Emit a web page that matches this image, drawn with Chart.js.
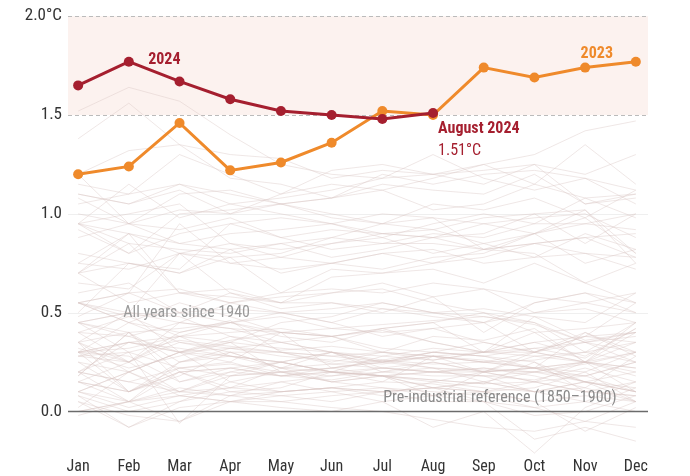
<!DOCTYPE html>
<html lang="en">

<head>
  <meta charset="UTF-8">
  <title>Monthly global temperature above pre-industrial</title>
  <script src="https://cdn.jsdelivr.net/npm/chart.js"></script>
  <style>
    body {
      margin: 0;
      background: #fff;
    }
    #wrap {
      width: 690px;
      height: 476px;
    }
  </style>
</head>

<body>
  <div id="wrap"><canvas id="tempChart"></canvas></div>

  <script>
    const months = ['Jan', 'Feb', 'Mar', 'Apr', 'May', 'Jun', 'Jul', 'Aug', 'Sep', 'Oct', 'Nov', 'Dec'];
    const yTicks = [0, 0.5, 1.0, 1.5, 2.0];

    const y2024 = [1.65, 1.77, 1.67, 1.58, 1.52, 1.50, 1.48, 1.51];
    const y2023 = [1.20, 1.24, 1.46, 1.22, 1.26, 1.36, 1.52, 1.50, 1.74, 1.69, 1.74, 1.77];

    // every year 1940-2022, read roughly off the background
    const pastYears = [
      [0.28, 0.35, 0.30, 0.38, 0.31, 0.33, 0.30, 0.26, 0.30, 0.32, 0.27, 0.42],
      [0.40, 0.38, 0.45, 0.42, 0.40, 0.38, 0.41, 0.35, 0.30, 0.48, 0.36, 0.40],
      [0.45, 0.30, 0.36, 0.33, 0.30, 0.28, 0.25, 0.22, 0.21, 0.20, 0.24, 0.30],
      [0.18, 0.40, 0.25, 0.30, 0.22, 0.20, 0.28, 0.26, 0.30, 0.35, 0.28, 0.42],
      [0.45, 0.38, 0.30, 0.36, 0.40, 0.42, 0.44, 0.46, 0.48, 0.44, 0.35, 0.30],
      [0.35, 0.25, 0.40, 0.46, 0.30, 0.28, 0.30, 0.38, 0.36, 0.42, 0.25, 0.10],
      [0.30, 0.22, 0.28, 0.35, 0.20, 0.18, 0.22, 0.20, 0.18, 0.16, 0.22, 0.15],
      [0.25, 0.20, 0.30, 0.32, 0.28, 0.26, 0.24, 0.28, 0.25, 0.30, 0.25, 0.22],
      [0.35, 0.10, 0.18, 0.30, 0.30, 0.24, 0.22, 0.20, 0.18, 0.20, 0.15, 0.10],
      [0.30, 0.10, 0.22, 0.24, 0.20, 0.15, 0.18, 0.16, 0.14, 0.15, 0.10, 0.08],
      [0.00, 0.05, 0.12, 0.08, 0.15, 0.10, 0.12, 0.10, 0.08, 0.02, -0.05, 0.05],
      [0.08, -0.08, 0.05, 0.15, 0.20, 0.22, 0.25, 0.28, 0.26, 0.22, 0.20, 0.30],
      [0.30, 0.28, 0.15, 0.22, 0.18, 0.16, 0.20, 0.18, 0.18, 0.10, 0.05, 0.15],
      [0.30, 0.32, 0.38, 0.35, 0.32, 0.30, 0.26, 0.24, 0.25, 0.22, 0.18, 0.25],
      [0.10, 0.20, 0.08, 0.05, 0.08, 0.10, 0.05, 0.08, 0.10, 0.12, 0.20, 0.05],
      [0.15, 0.05, -0.05, 0.08, 0.10, 0.12, 0.10, 0.12, 0.10, 0.05, -0.10, 0.02],
      [0.05, -0.08, 0.02, 0.05, 0.05, 0.08, 0.10, 0.05, 0.05, -0.02, 0.00, 0.08],
      [0.10, 0.20, 0.10, 0.18, 0.25, 0.30, 0.28, 0.32, 0.30, 0.30, 0.35, 0.38],
      [0.55, 0.45, 0.35, 0.32, 0.30, 0.25, 0.30, 0.28, 0.25, 0.26, 0.30, 0.25],
      [0.28, 0.25, 0.35, 0.30, 0.22, 0.24, 0.26, 0.22, 0.20, 0.15, 0.18, 0.25],
      [0.20, 0.30, -0.06, 0.18, 0.20, 0.22, 0.18, 0.20, 0.22, 0.18, 0.12, 0.28],
      [0.30, 0.35, 0.32, 0.28, 0.25, 0.30, 0.22, 0.20, 0.22, 0.20, 0.18, 0.10],
      [0.28, 0.30, 0.22, 0.25, 0.18, 0.20, 0.18, 0.20, 0.20, 0.22, 0.25, 0.20],
      [0.18, 0.40, 0.15, 0.20, 0.18, 0.22, 0.26, 0.30, 0.28, 0.32, 0.35, 0.25],
      [0.20, 0.15, 0.10, 0.08, 0.05, 0.02, 0.00, -0.04, -0.08, -0.10, -0.05, -0.08],
      [0.10, 0.02, 0.08, 0.05, 0.10, 0.12, 0.08, 0.15, 0.12, 0.10, 0.15, 0.05],
      [0.15, 0.10, 0.20, 0.10, 0.12, 0.20, 0.18, 0.12, 0.15, 0.10, 0.15, 0.12],
      [0.10, 0.05, 0.20, 0.12, 0.22, 0.15, 0.18, 0.16, 0.14, 0.25, 0.10, 0.15],
      [0.02, 0.20, 0.30, 0.15, 0.10, 0.12, 0.10, 0.12, 0.10, 0.15, 0.10, 0.08],
      [0.15, 0.10, 0.25, 0.32, 0.35, 0.30, 0.25, 0.28, 0.30, 0.35, 0.38, 0.40],
      [0.35, 0.40, 0.20, 0.22, 0.18, 0.20, 0.18, 0.12, 0.15, 0.10, 0.12, 0.05],
      [0.08, 0.00, 0.05, 0.10, 0.08, 0.05, 0.10, 0.12, 0.05, 0.02, 0.05, 0.00],
      [-0.02, 0.05, 0.10, 0.12, 0.15, 0.18, 0.20, 0.25, 0.20, 0.30, 0.25, 0.40],
      [0.45, 0.50, 0.45, 0.42, 0.35, 0.38, 0.30, 0.28, 0.25, 0.22, 0.15, 0.10],
      [0.00, 0.05, 0.08, 0.12, 0.10, 0.12, 0.15, 0.14, 0.10, 0.05, 0.08, 0.05],
      [0.20, 0.15, 0.22, 0.18, 0.20, 0.15, 0.12, 0.08, 0.05, -0.14, -0.08, -0.15],
      [0.05, -0.02, -0.05, 0.05, 0.02, 0.00, 0.05, -0.08, 0.00, -0.21, 0.02, 0.12],
      [0.20, 0.35, 0.38, 0.40, 0.42, 0.38, 0.32, 0.30, 0.28, 0.22, 0.40, 0.30],
      [0.32, 0.25, 0.38, 0.28, 0.25, 0.20, 0.18, 0.08, 0.20, 0.15, 0.25, 0.18],
      [0.20, 0.05, 0.25, 0.28, 0.22, 0.30, 0.25, 0.30, 0.35, 0.30, 0.38, 0.55],
      [0.40, 0.48, 0.38, 0.45, 0.48, 0.42, 0.40, 0.42, 0.35, 0.30, 0.38, 0.35],
      [0.55, 0.45, 0.55, 0.48, 0.40, 0.38, 0.42, 0.45, 0.30, 0.28, 0.30, 0.45],
      [0.15, 0.25, 0.10, 0.20, 0.25, 0.20, 0.18, 0.15, 0.20, 0.22, 0.25, 0.45],
      [0.55, 0.48, 0.50, 0.45, 0.50, 0.45, 0.38, 0.42, 0.45, 0.30, 0.40, 0.28],
      [0.35, 0.20, 0.30, 0.25, 0.40, 0.22, 0.25, 0.30, 0.28, 0.25, 0.15, 0.10],
      [0.25, 0.10, 0.20, 0.22, 0.25, 0.20, 0.15, 0.28, 0.20, 0.22, 0.15, 0.20],
      [0.30, 0.35, 0.30, 0.28, 0.25, 0.20, 0.22, 0.25, 0.20, 0.28, 0.25, 0.22],
      [0.35, 0.50, 0.30, 0.35, 0.45, 0.48, 0.55, 0.50, 0.52, 0.48, 0.45, 0.60],
      [0.70, 0.55, 0.60, 0.58, 0.55, 0.55, 0.52, 0.50, 0.48, 0.45, 0.30, 0.35],
      [0.30, 0.45, 0.40, 0.45, 0.38, 0.35, 0.42, 0.45, 0.50, 0.45, 0.35, 0.40],
      [0.45, 0.50, 0.80, 0.60, 0.52, 0.55, 0.50, 0.58, 0.40, 0.55, 0.60, 0.50],
      [0.60, 0.65, 0.50, 0.60, 0.55, 0.60, 0.62, 0.55, 0.50, 0.40, 0.42, 0.45],
      [0.55, 0.50, 0.48, 0.38, 0.35, 0.30, 0.20, 0.22, 0.15, 0.20, 0.25, 0.30],
      [0.45, 0.40, 0.42, 0.45, 0.40, 0.38, 0.42, 0.35, 0.30, 0.40, 0.25, 0.35],
      [0.40, 0.25, 0.45, 0.55, 0.50, 0.52, 0.55, 0.50, 0.45, 0.55, 0.60, 0.55],
      [0.70, 0.85, 0.60, 0.62, 0.55, 0.68, 0.70, 0.72, 0.65, 0.75, 0.65, 0.55],
      [0.48, 0.60, 0.50, 0.52, 0.50, 0.45, 0.52, 0.48, 0.45, 0.50, 0.55, 0.50],
      [0.55, 0.60, 0.62, 0.55, 0.60, 0.72, 0.70, 0.75, 0.82, 0.85, 0.88, 0.90],
      [0.95, 1.15, 0.98, 1.05, 1.00, 0.95, 1.00, 0.98, 0.82, 0.80, 0.65, 0.75],
      [0.70, 0.90, 0.60, 0.55, 0.58, 0.60, 0.65, 0.58, 0.62, 0.58, 0.55, 0.60],
      [0.50, 0.75, 0.70, 0.78, 0.60, 0.62, 0.60, 0.65, 0.62, 0.50, 0.52, 0.45],
      [0.65, 0.62, 0.80, 0.75, 0.78, 0.75, 0.80, 0.82, 0.75, 0.78, 0.90, 0.82],
      [0.95, 1.00, 1.05, 0.85, 0.82, 0.85, 0.88, 0.80, 0.85, 0.78, 0.80, 0.72],
      [0.95, 0.85, 0.82, 0.80, 0.85, 0.78, 0.82, 0.88, 0.90, 1.00, 0.85, 1.00],
      [0.88, 0.95, 0.85, 0.82, 0.70, 0.75, 0.72, 0.78, 0.80, 0.90, 0.98, 0.80],
      [0.92, 0.80, 0.90, 0.95, 0.88, 0.92, 0.90, 0.88, 0.95, 0.98, 1.00, 0.88],
      [0.75, 0.90, 0.80, 0.78, 0.80, 0.88, 0.85, 0.90, 0.88, 0.95, 0.95, 1.00],
      [1.20, 0.95, 0.92, 0.98, 0.88, 0.82, 0.85, 0.85, 0.82, 0.85, 0.80, 0.78],
      [0.55, 0.60, 0.95, 0.75, 0.72, 0.75, 0.80, 0.75, 0.78, 0.85, 0.88, 0.78],
      [0.80, 0.75, 0.70, 0.82, 0.85, 0.88, 0.95, 0.98, 0.95, 0.90, 0.95, 0.92],
      [1.05, 1.10, 1.15, 1.10, 1.05, 0.98, 0.95, 0.92, 0.85, 0.90, 1.02, 0.75],
      [0.75, 0.72, 0.80, 0.85, 0.78, 0.85, 0.90, 0.88, 0.82, 0.90, 0.75, 0.82],
      [0.70, 0.75, 0.72, 0.95, 0.98, 0.95, 0.90, 0.92, 0.98, 1.00, 1.02, 0.80],
      [0.95, 0.90, 0.85, 0.90, 0.92, 0.95, 0.88, 0.95, 1.00, 0.95, 1.08, 0.98],
      [0.95, 0.80, 1.00, 1.02, 1.05, 1.00, 0.95, 1.05, 1.02, 1.08, 0.98, 1.12],
      [1.10, 1.05, 1.12, 1.00, 1.10, 1.15, 1.12, 1.18, 1.25, 1.30, 1.42, 1.47],
      [1.52, 1.64, 1.57, 1.40, 1.25, 1.20, 1.18, 1.30, 1.18, 1.12, 1.18, 1.05],
      [1.20, 1.32, 1.35, 1.18, 1.15, 1.08, 1.15, 1.12, 1.10, 1.20, 1.05, 1.10],
      [1.00, 0.95, 1.10, 1.12, 1.05, 1.08, 1.12, 1.02, 1.05, 1.15, 1.08, 1.10],
      [1.15, 1.10, 1.30, 1.20, 1.10, 1.22, 1.25, 1.20, 1.22, 1.25, 1.20, 1.30],
      [1.38, 1.56, 1.35, 1.30, 1.28, 1.18, 1.22, 1.20, 1.25, 1.15, 1.35, 1.15],
      [1.08, 0.95, 1.02, 1.00, 1.05, 1.08, 1.20, 1.15, 1.20, 1.22, 1.18, 1.12],
      [1.10, 1.05, 1.15, 1.05, 1.08, 1.12, 1.18, 1.20, 1.15, 1.25, 1.05, 1.08]
    ];

    const FONT = "'Roboto Condensed', 'Liberation Sans Narrow', 'Arial Narrow', Roboto, sans-serif";
    const RED = '#a51f2f';
    const ORANGE = '#ef8a2b';

    const toPoints = (arr) => arr.map((v, i) => ({ x: i, y: v }));

    const datasets = [
      {
        label: '2024',
        data: toPoints(y2024),
        borderColor: RED,
        backgroundColor: RED,
        borderWidth: 3,
        pointRadius: 5,
        pointBorderWidth: 0,
        order: 0,
      },
      {
        label: '2023',
        data: toPoints(y2023),
        borderColor: ORANGE,
        backgroundColor: ORANGE,
        borderWidth: 3,
        pointRadius: 5,
        pointBorderWidth: 0,
        order: 1,
      },
    ].concat(pastYears.map((row, i) => ({
      label: String(1940 + i),
      data: toPoints(row),
      borderColor: 'rgba(216, 198, 195, 0.42)',
      borderWidth: 1,
      pointRadius: 0,
      order: 2,
    })));

    // band above 1.5, dashed limits, zero line and text notes
    const notes = {
      id: 'notes',
      beforeDatasetsDraw(chart) {
        const { ctx, chartArea: a, scales: { y } } = chart;
        const y2 = y.getPixelForValue(2.0);
        const y15 = y.getPixelForValue(1.5);
        ctx.save();
        ctx.fillStyle = '#fcf2ef';
        ctx.fillRect(a.left, y2, a.right - a.left, y15 - y2);
        ctx.strokeStyle = '#efefef';
        ctx.lineWidth = 1;
        [1.0, 0.5].forEach((v) => {
          const py = Math.round(y.getPixelForValue(v)) + 0.5;
          ctx.beginPath();
          ctx.moveTo(a.left, py);
          ctx.lineTo(a.right, py);
          ctx.stroke();
        });
        ctx.strokeStyle = '#bbbbbb';
        ctx.setLineDash([4, 3]);
        [y2, y15].forEach((p) => {
          const py = Math.round(p) + 0.5;
          ctx.beginPath();
          ctx.moveTo(a.left, py);
          ctx.lineTo(a.right, py);
          ctx.stroke();
        });
        ctx.restore();
      },
      afterDatasetsDraw(chart) {
        const { ctx, chartArea: a, scales: { x, y } } = chart;
        ctx.save();
        const y0 = y.getPixelForValue(0);
        ctx.strokeStyle = '#6b6b6b';
        ctx.lineWidth = 1.5;
        ctx.beginPath();
        ctx.moveTo(a.left, y0);
        ctx.lineTo(a.right, y0);
        ctx.stroke();

        ctx.textBaseline = 'middle';
        ctx.font = 'bold 16px ' + FONT;
        ctx.fillStyle = RED;
        ctx.textAlign = 'center';
        ctx.fillText('2024', x.getPixelForValue(1.70), y.getPixelForValue(1.78));
        ctx.fillStyle = ORANGE;
        ctx.fillText('2023', x.getPixelForValue(10.23), y.getPixelForValue(1.81));

        ctx.textAlign = 'left';
        ctx.fillStyle = RED;
        ctx.fillText('August 2024', x.getPixelForValue(7.1), y.getPixelForValue(1.43));
        ctx.font = '16px ' + FONT;
        ctx.fillText('1.51°C', x.getPixelForValue(7.1), y.getPixelForValue(1.32));

        ctx.fillStyle = '#9a9a9a';
        ctx.fillText('All years since 1940', x.getPixelForValue(0.89), y.getPixelForValue(0.5));
        ctx.fillStyle = '#8a8a8a';
        ctx.textAlign = 'right';
        ctx.fillText('Pre-industrial reference (1850–1900)', x.getPixelForValue(10.62), y.getPixelForValue(0.066));
        ctx.restore();
      },
    };

    const ctx = document.getElementById('tempChart').getContext('2d');
    new Chart(ctx, {
      type: 'line',
      data: { datasets },
      options: {
        responsive: true,
        maintainAspectRatio: false,
        animation: false,
        layout: { padding: { top: 16, right: 42, bottom: 0, left: 0 } },
        plugins: {
          legend: { display: false },
          tooltip: { enabled: false },
        },
        scales: {
          x: {
            type: 'linear',
            min: -0.2,
            max: 11.24,
            afterBuildTicks: (axis) => { axis.ticks = months.map((m, i) => ({ value: i })); },
            afterFit: (axis) => { axis.height = 21; },
            grid: { display: false, drawTicks: false },
            border: { display: false },
            ticks: {
              padding: 2,
              color: '#333',
              font: { family: FONT, size: 16 },
              callback: (v) => months[v],
            },
          },
          y: {
            min: -0.22,
            max: 2.0,
            afterBuildTicks: (axis) => { axis.ticks = yTicks.map((v) => ({ value: v })); },
            afterFit: (axis) => { axis.width = 68; },
            grid: { display: false, drawTicks: false },
            border: { display: false },
            ticks: {
              padding: 6,
              color: '#333',
              font: { family: FONT, size: 17 },
              callback: (v) => (v === 2 ? '2.0°C' : v.toFixed(1)),
            },
          },
        },
      },
      plugins: [notes],
    });
  </script>
</body>

</html>
